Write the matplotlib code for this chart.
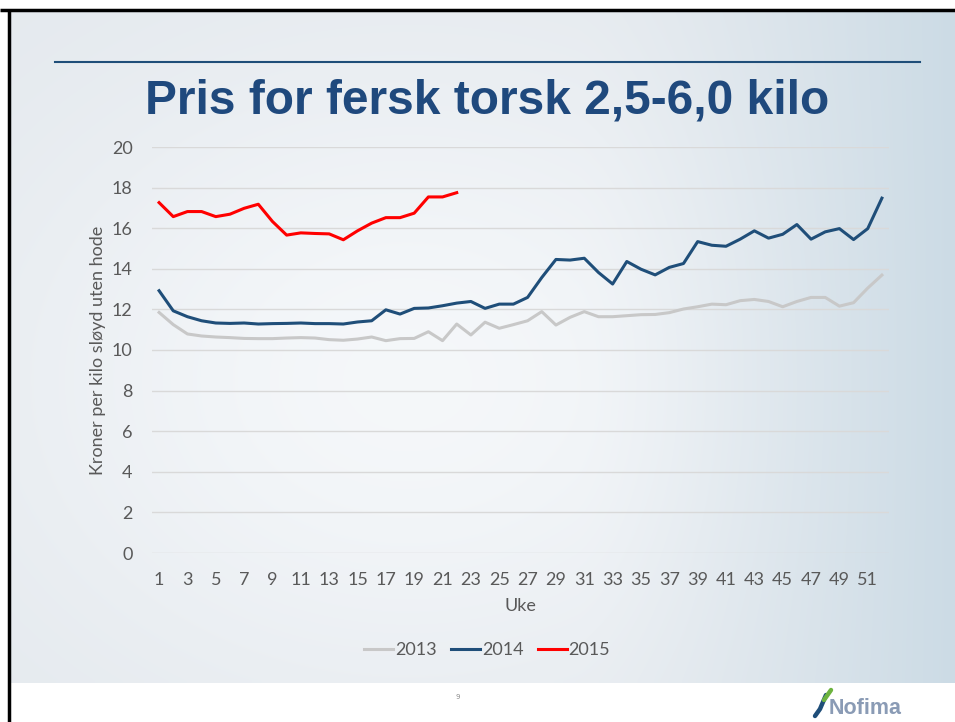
import numpy as np
import matplotlib
matplotlib.use("Agg")
import matplotlib.pyplot as plt
from matplotlib.lines import Line2D

# weekly prices (NOK per kg, gutted without head)
weeks = list(range(1, 53))
p2013 = [11.85, 11.25, 10.79, 10.69, 10.64, 10.61, 10.57, 10.56, 10.56, 10.59,
         10.61, 10.59, 10.51, 10.48, 10.54, 10.64, 10.46, 10.56, 10.57, 10.90,
         10.46, 11.28, 10.74, 11.37, 11.07, 11.25, 11.44, 11.89, 11.23, 11.61,
         11.89, 11.64, 11.64, 11.69, 11.74, 11.75, 11.84, 12.02, 12.13, 12.26,
         12.23, 12.43, 12.49, 12.39, 12.13, 12.39, 12.59, 12.59, 12.16, 12.33,
         13.05, 13.69]
p2014 = [12.92, 11.93, 11.64, 11.44, 11.33, 11.31, 11.33, 11.28, 11.30, 11.31,
         11.33, 11.30, 11.30, 11.28, 11.38, 11.44, 11.98, 11.77, 12.05, 12.07,
         12.18, 12.31, 12.39, 12.05, 12.26, 12.26, 12.59, 13.57, 14.46, 14.43,
         14.52, 13.82, 13.25, 14.36, 13.98, 13.70, 14.07, 14.26, 15.34, 15.16,
         15.11, 15.46, 15.87, 15.51, 15.70, 16.18, 15.46, 15.82, 15.98, 15.44,
         15.98, 17.48]
p2015 = [17.26, 16.57, 16.82, 16.82, 16.57, 16.69, 16.98, 17.18, 16.33, 15.66,
         15.77, 15.74, 15.72, 15.43, 15.87, 16.25, 16.52, 16.52, 16.74, 17.54,
         17.54, 17.75]
years = ["2013", "2014", "2015"]
colors = ["#C8C8C8", "#1F4E79", "#FF0000"]

W, H = 955, 722
fig = plt.figure(figsize=(W / 100, H / 100), dpi=100)
fig.patch.set_facecolor("white")

# slide background with soft gradient
bg = fig.add_axes([0, 0, 1, 1], zorder=-10)
bg.set_xlim(0, W); bg.set_ylim(H, 0); bg.axis("off")
xx, yy = np.meshgrid(np.linspace(0, 1, 200), np.linspace(0, 1, 150))
light = np.exp(-(((xx - 0.42) / 0.45) ** 2 + ((yy - 0.55) / 0.5) ** 2))
blue = np.clip((xx - 0.6) / 0.4, 0, 1) ** 1.5
c_edge = np.array([0.89, 0.91, 0.93])
c_mid = np.array([0.96, 0.97, 0.98])
c_blue = np.array([0.80, 0.86, 0.90])
img = c_edge + (c_mid - c_edge) * light[..., None]
img = img + (c_blue - img) * blue[..., None]
bg.imshow(img, extent=[10, W, 683, 10], aspect="auto", interpolation="bilinear")
bg.plot([0, W], [9.5, 9.5], color="black", lw=2.5, solid_capstyle="butt")
bg.plot([8.5, 8.5], [9, H], color="black", lw=2.5, solid_capstyle="butt")
bg.plot([55, 920], [62, 62], color="#1F4E79", lw=1.5)
bg.text(487, 101, "Pris for fersk torsk 2,5-6,0 kilo", ha="center", va="center",
        fontsize=34.5, fontweight="bold", color="#1F497D", family="Liberation Sans")
bg.text(458, 697, "9", ha="center", va="center", fontsize=5, color="#8C8C8C")
bg.text(829, 708, "Nofima", ha="left", va="center", fontsize=15.5, fontweight="bold",
        color="#8A9BB5", family="Liberation Sans")
bg.plot([826, 820, 815], [695, 709, 716], color="#1F4E79", lw=3.2, solid_capstyle="round")
bg.plot([824, 831], [700, 690], color="#6DB33F", lw=3.2, solid_capstyle="round")

ax = fig.add_axes([152 / W, 1 - 553 / H, 737 / W, 406 / H])
ax.patch.set_alpha(0)
for vals, col, lab in zip([p2013, p2014, p2015], colors, years):
    ax.plot(weeks[:len(vals)], vals, color=col, lw=2.2, label=lab, zorder=3)

ax.set_xlim(0.5, 52.5)
ax.set_ylim(0, 20)
ax.set_yticks(range(0, 21, 2))
ax.set_xticks(range(1, 52, 2))
ax.grid(axis="y", color="#D9D9D9", lw=1)
ax.set_axisbelow(True)
for s in ax.spines.values():
    s.set_visible(False)
ax.tick_params(length=0, labelsize=13, labelcolor="#595959", pad=14)
for t in ax.get_xticklabels() + ax.get_yticklabels():
    t.set_family("Lato")
ax.set_xlabel("Uke", fontsize=13, color="#595959", family="Lato", labelpad=7)
ax.set_ylabel("Kroner per kilo sløyd uten hode", fontsize=13, color="#595959",
              family="Lato", labelpad=4)

handles = [Line2D([], [], color=c, lw=2.2) for c in colors]
leg = ax.legend(handles, years, loc="center", bbox_to_anchor=(0.455, -0.24),
                ncol=3, frameon=False, handlelength=1.6, handletextpad=0.1,
                columnspacing=0.8, prop={"family": "Lato", "size": 13})
for t in leg.get_texts():
    t.set_color("#595959")

fig.savefig("out.png", dpi=100)
